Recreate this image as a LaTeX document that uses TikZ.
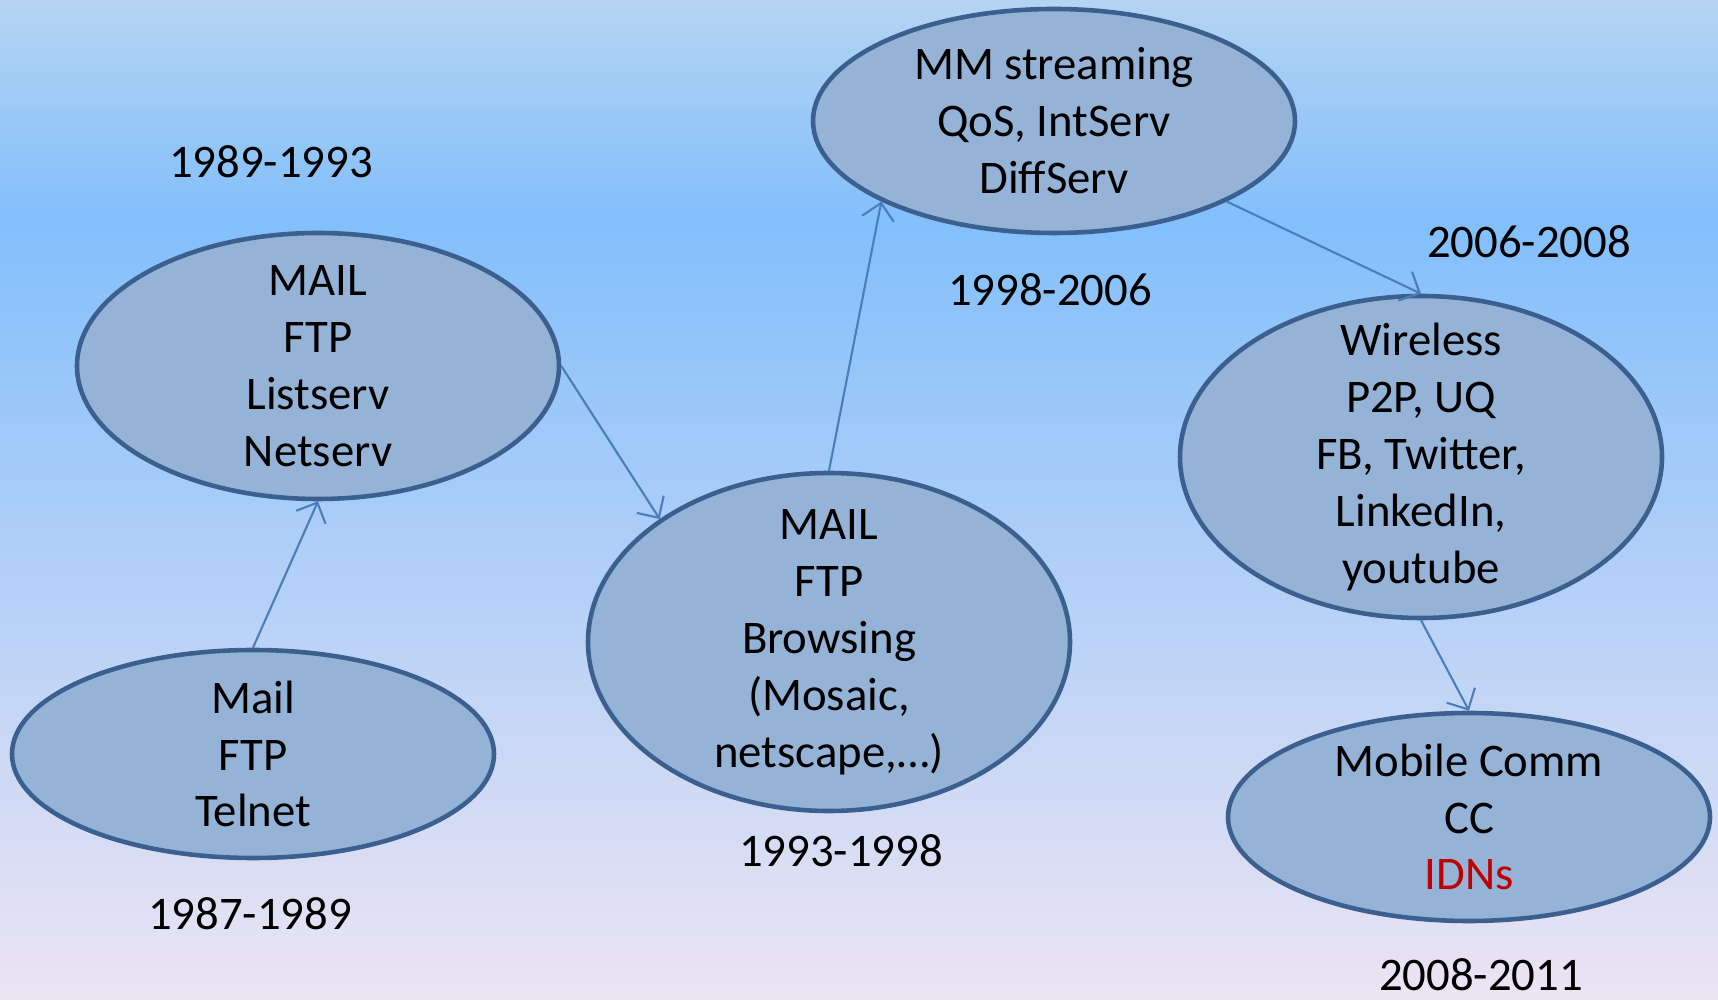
\documentclass[tikz,border=0pt]{standalone}
\usepackage{fontspec}
\setmainfont{Carlito}
\usetikzlibrary{positioning,shapes.geometric,arrows.meta}

\definecolor{bgtop}{HTML}{B5D4F2}
\definecolor{bgmid}{HTML}{82BFFB}
\definecolor{bgbot}{HTML}{ECE4F3}
\definecolor{ovalfill}{HTML}{95B3D7}
\definecolor{ovaldraw}{HTML}{3B5F8E}
\definecolor{linkblue}{HTML}{4A7EBB}
\definecolor{idnred}{HTML}{C00000}

\pgfdeclareverticalshading{bgshade}{100bp}{color(0bp)=(bgbot); color(25bp)=(bgbot); color(64bp)=(bgmid); color(75bp)=(bgtop); color(100bp)=(bgtop)}

\tikzset{>={Straight Barb[length=1.6mm,width=3.2mm]}}

\begin{document}
\begin{tikzpicture}[->,shorten >=0pt,semithick,
                    font=\fontsize{13.3}{16.2}\selectfont]
      \tikzstyle{era}=[ellipse,draw=ovaldraw,line width=1.3pt,fill=ovalfill,
                       inner xsep=0pt,inner ysep=-2cm,minimum width=4.82cm,
                       align=center,text=black]
      \tikzstyle{years}=[text=black]
      \tikzstyle{link}=[draw=linkblue,line width=0.6pt]

      \shade[shading=bgshade] (0,0) rectangle (17.18,9.99);
      \useasboundingbox (0,0) rectangle (17.18,9.99);

      \node[era]   (telnet)   [minimum height=2.08cm] at (2.53,2.45)  {Mail\\FTP\\Telnet};
      \node[era]   (listserv) [minimum height=2.66cm] at (3.18,6.33)  {MAIL\\FTP\\Listserv\\Netserv};
      \node[era]   (browsing) [minimum height=3.38cm] at (8.29,3.57)  {MAIL\\FTP\\Browsing\\(Mosaic,\\netscape,…)};
      \node[era]   (stream)   [minimum height=2.24cm] at (10.54,8.78) {MM streaming\\QoS, IntServ\\DiffServ};
      \node[era]   (wireless) [minimum height=3.22cm] at (14.21,5.42) {Wireless\\P2P, UQ\\FB, Twitter,\\LinkedIn,\\youtube};
      \node[era]   (mobile)   [minimum height=2.08cm] at (14.69,1.82) {Mobile Comm\\CC\\\textcolor{idnred}{IDNs}};

      \node[years] (y8789) at (2.50,0.85)  {1987-1989};
      \node[years] (y8993) at (2.71,8.37)  {1989-1993};
      \node[years] (y9398) at (8.41,1.48)  {1993-1998};
      \node[years] (y9806) at (10.50,7.09) {1998-2006};
      \node[years] (y0608) at (15.29,7.57) {2006-2008};
      \node[years] (y0811) at (14.81,0.24) {2008-2011};

      \path (telnet.north)   edge[link] (listserv.south)
            (listserv.east)  edge[link] (browsing.144)
            (browsing.north) edge[link] (stream.205)
            (stream.335)     edge[link] (wireless.north)
            (wireless.south) edge[link] (mobile.north);
\end{tikzpicture}
\end{document}
